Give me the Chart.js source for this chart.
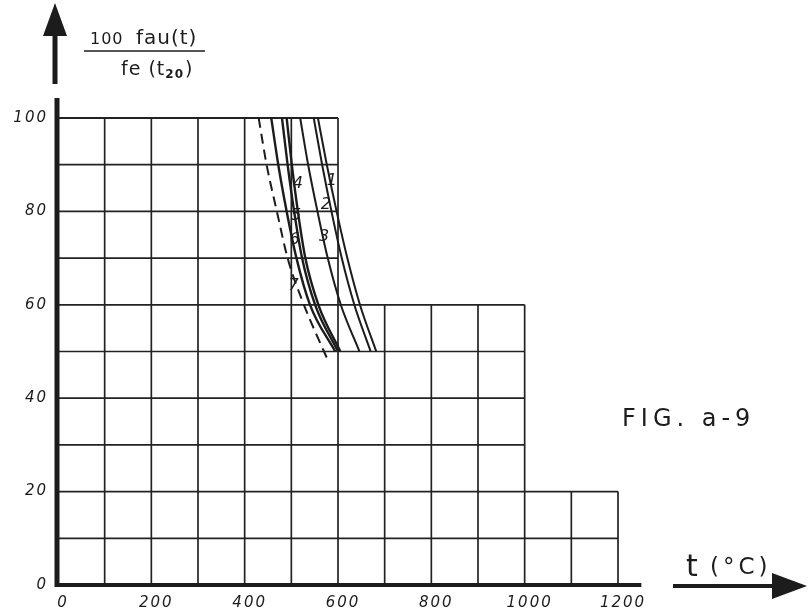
<!DOCTYPE html>
<html>
<head>
<meta charset="utf-8">
<script src="https://cdn.jsdelivr.net/npm/chart.js@4.4.0/dist/chart.umd.min.js"></script>
<style>
  html, body { margin: 0; padding: 0; background: #fff; }
</style>
</head>
<body>
<canvas id="fig" width="808" height="611"></canvas>
<script>
// niveaux du rapport 100 fau(t) / fe(t20) ou les courbes ont ete lues
const niveaux = [100, 90, 80, 70, 60, 50];
// temperature t (°C) de chaque courbe a ces niveaux
const courbe1 = [557, 576, 597, 620, 647, 682];
const courbe2 = [548, 566, 586, 608, 635, 670];
const courbe3 = [519, 536, 556, 578, 606, 646];
const courbe4 = [457, 472, 490, 511, 540, 594];
const courbe5 = [480, 492, 506, 523, 551, 600];
const courbe6 = [490, 501, 514, 530, 558, 605];
// la courbe en tirets descend un peu sous 50
const niveaux7 = [100, 90, 80, 70, 60, 50, 48];
const courbe7 = [430, 447, 469, 492, 527, 570, 579];

const ticksT = [0, 200, 400, 600, 800, 1000, 1200];
const ticksR = [0, 20, 40, 60, 80, 100];

// quadrillage en escalier : jusqu'a t = palierT[i], il monte a palierR[i]
const palierT = [600, 1000, 1200];
const palierR = [100, 60, 20];

const ENCRE = '#1c1c1c';

const trace = (vals, lev, extra) => Object.assign({
    data: vals.map((t, i) => ({ x: t, y: lev[i] })),
    borderColor: ENCRE,
    borderWidth: 2,
    cubicInterpolationMode: 'monotone',
    pointRadius: 0,
    fill: false
}, extra || {});

// numeros des courbes (place pres du trace)
const reperes = [
    { n: '1', t: 587, r: 86.5 },
    { n: '2', t: 574, r: 81.5 },
    { n: '3', t: 570, r: 74.5 },
    { n: '4', t: 514, r: 86 },
    { n: '5', t: 510, r: 79 },
    { n: '6', t: 507, r: 74 },
    { n: '7', t: 505, r: 64 }
];

const dessin = {
    id: 'dessin',
    beforeDatasetsDraw(chart) {
        const { ctx, scales: { x, y } } = chart;
        ctx.save();
        ctx.strokeStyle = '#222';
        ctx.lineWidth = 1.7;

        // verticales tous les 100 °C
        for (let t = 100; t <= 1200; t += 100) {
            const i = palierT.findIndex(p => p >= t);
            const haut = palierR[i];
            ctx.beginPath();
            ctx.moveTo(x.getPixelForValue(t), y.getPixelForValue(0));
            ctx.lineTo(x.getPixelForValue(t), y.getPixelForValue(haut));
            ctx.stroke();
        }
        // horizontales tous les 10
        for (let r = 10; r <= 100; r += 10) {
            let droite = 0;
            palierR.forEach((p, i) => { if (p >= r) droite = Math.max(droite, palierT[i]); });
            ctx.lineWidth = r === 100 ? 2.2 : 1.7;
            ctx.beginPath();
            ctx.moveTo(x.getPixelForValue(0), y.getPixelForValue(r));
            ctx.lineTo(x.getPixelForValue(droite), y.getPixelForValue(r));
            ctx.stroke();
        }
        ctx.restore();
    },
    afterDatasetsDraw(chart) {
        const { ctx, scales: { x, y } } = chart;
        const x0 = x.getPixelForValue(0);
        const y0 = y.getPixelForValue(0);
        ctx.save();
        ctx.fillStyle = ENCRE;
        ctx.strokeStyle = ENCRE;

        // axes epais
        ctx.lineWidth = 5;
        ctx.lineCap = 'butt';
        ctx.beginPath();
        ctx.moveTo(x0 - 1, y0 + 2);
        ctx.lineTo(x0 - 1, y.getPixelForValue(100) - 20);
        ctx.stroke();
        ctx.lineWidth = 4;
        ctx.beginPath();
        ctx.moveTo(x0 - 2, y0);
        ctx.lineTo(x.getPixelForValue(1250), y0);
        ctx.stroke();

        // fleche verticale
        ctx.lineWidth = 5;
        ctx.beginPath();
        ctx.moveTo(x0 - 3, 84);
        ctx.lineTo(x0 - 3, 30);
        ctx.stroke();
        ctx.beginPath();
        ctx.moveTo(x0 - 3, 3);
        ctx.lineTo(x0 - 15, 36);
        ctx.lineTo(x0 + 9, 36);
        ctx.closePath();
        ctx.fill();

        // fleche horizontale
        ctx.lineWidth = 4;
        ctx.beginPath();
        ctx.moveTo(673, y0 + 1);
        ctx.lineTo(775, y0 + 1);
        ctx.stroke();
        ctx.beginPath();
        ctx.moveTo(807, y0 + 1);
        ctx.lineTo(772, y0 - 12);
        ctx.lineTo(772, y0 + 14);
        ctx.closePath();
        ctx.fill();

        // graduations
        ctx.font = 'italic 15px "DejaVu Sans"';
        ctx.letterSpacing = '2px';
        ctx.textBaseline = 'middle';
        ctx.textAlign = 'center';
        ticksT.forEach(t => ctx.fillText(String(t), x.getPixelForValue(t) + 5, y0 + 18));
        ctx.textAlign = 'right';
        ticksR.forEach(r => ctx.fillText(String(r), x0 - 10, y.getPixelForValue(r)));

        // numeros des courbes
        ctx.letterSpacing = '0px';
        ctx.textAlign = 'center';
        ctx.font = 'italic 16px "DejaVu Sans"';
        reperes.forEach(c => ctx.fillText(c.n, x.getPixelForValue(c.t), y.getPixelForValue(c.r)));

        // titre de l'axe vertical
        ctx.textAlign = 'left';
        ctx.textBaseline = 'alphabetic';
        ctx.font = '16px "DejaVu Sans"';
        ctx.letterSpacing = '1px';
        ctx.fillText('100', 90, 44);
        ctx.font = '20px "DejaVu Sans"';
        ctx.fillText('fau(t)', 136, 44);
        ctx.lineWidth = 1.6;
        ctx.beginPath();
        ctx.moveTo(84, 51);
        ctx.lineTo(205, 51);
        ctx.stroke();
        ctx.font = '19px "DejaVu Sans"';
        ctx.fillText('fe (t', 121, 75);
        const w = ctx.measureText('fe (t').width;
        ctx.font = 'bold 12px "DejaVu Sans"';
        ctx.fillText('20', 121 + w, 78);
        const w2 = ctx.measureText('20').width;
        ctx.font = '19px "DejaVu Sans"';
        ctx.fillText(')', 121 + w + w2 + 1, 75);

        // titre de l'axe horizontal
        ctx.font = '30px "DejaVu Sans"';
        ctx.letterSpacing = '0px';
        ctx.fillText('t', 686, 576);
        ctx.font = '23px "DejaVu Sans"';
        ctx.letterSpacing = '4px';
        ctx.fillText('(°C)', 710, 574);

        // legende de la figure
        ctx.font = '24px "DejaVu Sans"';
        ctx.letterSpacing = '5px';
        ctx.fillText('FIG. a-9', 622, 426);
        ctx.restore();
    }
};

new Chart(document.getElementById('fig'), {
    type: 'line',
    data: {
        datasets: [
            trace(courbe1, niveaux, { label: '1' }),
            trace(courbe2, niveaux, { label: '2' }),
            trace(courbe3, niveaux, { label: '3' }),
            trace(courbe4, niveaux, { label: '4', borderWidth: 2.4 }),
            trace(courbe5, niveaux, { label: '5', borderWidth: 2.4 }),
            trace(courbe6, niveaux, { label: '6', borderWidth: 2.4 }),
            trace(courbe7, niveaux7, { label: '7', borderDash: [10, 6] })
        ]
    },
    options: {
        responsive: false,
        animation: false,
        layout: { padding: { left: 58, right: 190, top: 118, bottom: 26 } },
        scales: {
            x: { type: 'linear', min: 0, max: 1200, display: false },
            y: { type: 'linear', min: 0, max: 100, display: false }
        },
        plugins: {
            legend: { display: false },
            tooltip: { enabled: false }
        }
    },
    plugins: [dessin]
});
</script>
</body>
</html>
